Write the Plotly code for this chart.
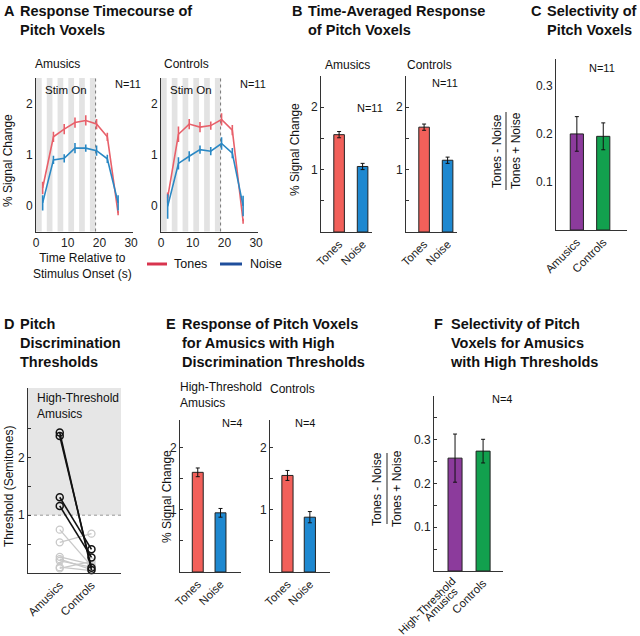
import plotly.graph_objects as go

W, H = 640, 636

# ---------------- data ----------------
# Panel A: response timecourse
time_s = [2.1, 5.5, 8.9, 12.3, 15.7, 19.1, 22.5, 25.9]
stim_onsets = [0, 3.4, 6.8, 10.2, 13.6, 17.0]
stim_width = 1.8
stim_end = 18.8
amu_tones = [0.35, 1.35, 1.5, 1.63, 1.67, 1.6, 1.35, -0.14]
amu_tones_err = [0.12, 0.1, 0.1, 0.1, 0.1, 0.1, 0.08, 0.04]
amu_noise = [0.06, 0.9, 0.93, 1.13, 1.13, 1.08, 0.92, 0.06]
amu_noise_err = [0.15, 0.08, 0.08, 0.1, 0.07, 0.1, 0.08, 0.15]
con_tones = [0.16, 1.4, 1.6, 1.54, 1.57, 1.69, 1.48, -0.3]
con_tones_err = [0.1, 0.15, 0.1, 0.1, 0.08, 0.12, 0.1, 0.05]
con_noise = [-0.01, 0.83, 0.97, 1.1, 1.07, 1.22, 1.03, 0.0]
con_noise_err = [0.24, 0.12, 0.1, 0.08, 0.08, 0.12, 0.1, 0.2]
legend_names = ["Tones", "Noise"]

# Panel B: time-averaged response
cond_labels = ["Tones", "Noise"]
b_amu = [1.56, 1.05]
b_amu_err = [0.05, 0.05]
b_con = [1.68, 1.15]
b_con_err = [0.05, 0.05]

# Panel C: selectivity
c_labels = ["Amusics", "Controls"]
c_vals = [0.2, 0.195]
c_err = [0.036, 0.028]

# Panel D: pitch discrimination thresholds
d_labels = ["Amusics", "Controls"]
d_high_amu = [2.43, 2.37, 1.31, 1.16]
d_high_con = [0.05, 0.09, 0.41, 0.27]
d_other_amu = [0.75, 0.53, 0.28, 0.24, 0.21, 0.1, 0.08]
d_other_con = [0.12, 0.68, 0.15, 0.06, 0.1, 0.04, 0.2]
d_cutoff = 1.0

# Panel E: high-threshold amusics
e_amu = [1.6, 0.95]
e_amu_err = [0.07, 0.07]
e_con = [1.55, 0.88]
e_con_err = [0.08, 0.09]

# Panel F: selectivity, high-threshold
f_labels = ["High-Threshold<br>Amusics", "Controls"]
f_vals = [0.258, 0.274]
f_err = [0.055, 0.027]

# ---------------- styles ----------------
RED_L = "#E8606A"
BLUE_L = "#2A88C4"
RED_B = "#F2605A"
BLUE_B = "#1E88D0"
PURPLE = "#8C3B9C"
GREEN = "#12A04E"
AX = "#333333"
FONT = "Liberation Sans, Arial, sans-serif"

fig = go.Figure()


def px_x(a, b):
    return [a / W, b / W]


def px_y(top, bottom):
    return [1 - bottom / H, 1 - top / H]


def axis_common():
    return dict(showline=True, linecolor=AX, linewidth=1, ticks="inside", ticklen=3,
                tickcolor=AX, showgrid=False, zeroline=False, mirror=False, automargin=False,
                tickfont=dict(size=12, color="#222"))


# axis definitions: name -> (xdom px, ydom px)
axes = {
    1: ((36, 133), (78, 231.5)),     # A amusics
    2: ((161, 258), (78, 231.5)),    # A controls
    3: ((321, 372), (76, 232)),      # B amusics
    4: ((406, 457), (76, 232)),      # B controls
    5: ((556, 627), (59, 230)),      # C
    6: ((28, 121), (388, 573)),      # D
    7: ((180, 241), (420, 572)),     # E amusics
    8: ((270, 330), (420, 572)),     # E controls
    9: ((434, 503), (396, 571)),     # F
}

layout_axes = {}
for i, (xd, yd) in axes.items():
    xn = "xaxis" if i == 1 else f"xaxis{i}"
    yn = "yaxis" if i == 1 else f"yaxis{i}"
    xa = axis_common()
    ya = axis_common()
    xa.update(domain=px_x(*xd), anchor="y" if i == 1 else f"y{i}")
    ya.update(domain=px_y(*yd), anchor="x" if i == 1 else f"x{i}")
    layout_axes[xn] = xa
    layout_axes[yn] = ya

# A axes
for i in (1, 2):
    xn = "xaxis" if i == 1 else f"xaxis{i}"
    yn = "yaxis" if i == 1 else f"yaxis{i}"
    layout_axes[xn].update(range=[0, 30.6], tickvals=[0, 10, 20, 30], ticks="")
    layout_axes[yn].update(range=[-0.5, 2.5], tickvals=[0, 1, 2], ticks="")

# B and E axes (bar)
for i, yr in ((3, 2.5), (4, 2.5), (7, 2.44), (8, 2.44)):
    layout_axes[f"xaxis{i}"].update(range=[0.23, 2.4] if i in (3, 4) else [0.22, 2.9],
                                    tickvals=[1, 2], ticktext=cond_labels, tickangle=-45, ticks="",
                                    tickfont=dict(size=11.5, color="#222"))
    layout_axes[f"yaxis{i}"].update(range=[0, yr], tickvals=[0.5, 1, 1.5, 2],
                                    ticktext=["", "1", "", "2"])
# C
layout_axes["xaxis5"].update(range=[0.21, 2.9], tickvals=[1, 2], ticktext=c_labels,
                             tickangle=-45, ticks="", tickfont=dict(size=11.5, color="#222"))
layout_axes["yaxis5"].update(range=[0, 0.356], tickvals=[0.1, 0.2, 0.3],
                             ticktext=["0.1", "0.2", "0.3"], ticks="")
# D
layout_axes["xaxis6"].update(range=[0, 2.93], tickvals=[1, 2], ticktext=d_labels,
                             tickangle=-45, ticks="", tickfont=dict(size=11.5, color="#222"))
layout_axes["yaxis6"].update(range=[0, 3.2], tickvals=[0.5, 1, 1.5, 2, 2.5],
                             ticktext=["", "1", "", "2", ""])
# F (first category label drawn as rotated annotations below, right-aligned like the source)
layout_axes["xaxis9"].update(range=[0.25, 2.71], tickvals=[1, 2], ticktext=["", f_labels[1]],
                             tickangle=-45, ticks="", tickfont=dict(size=11.5, color="#222"))
layout_axes["yaxis9"].update(range=[0, 0.4],
                             tickvals=[0.05, 0.1, 0.15, 0.2, 0.25, 0.3, 0.35],
                             ticktext=["", "0.1", "", "0.2", "", "0.3", ""])

# ---------------- traces ----------------
def line_trace(x, y, err, color, xa, ya):
    return go.Scatter(x=x, y=y, mode="lines", line=dict(color=color, width=1.6),
                      error_y=dict(type="data", array=err, color=color, thickness=1.6, width=0),
                      xaxis=xa, yaxis=ya, showlegend=False, hoverinfo="skip")


fig.add_trace(line_trace(time_s, amu_tones, amu_tones_err, RED_L, "x", "y"))
fig.add_trace(line_trace(time_s, amu_noise, amu_noise_err, BLUE_L, "x", "y"))
fig.add_trace(line_trace(time_s, con_tones, con_tones_err, RED_L, "x2", "y2"))
fig.add_trace(line_trace(time_s, con_noise, con_noise_err, BLUE_L, "x2", "y2"))


def bar_trace(vals, err, colors, xa, ya, width):
    return go.Bar(x=[1, 2], y=vals, width=width,
                  marker=dict(color=colors, line=dict(color="#222", width=1)),
                  error_y=dict(type="data", array=err, color="#111", thickness=1, width=2),
                  xaxis=xa, yaxis=ya, showlegend=False, hoverinfo="skip")


fig.add_trace(bar_trace(b_amu, b_amu_err, [RED_B, BLUE_B], "x3", "y3", 0.45))
fig.add_trace(bar_trace(b_con, b_con_err, [RED_B, BLUE_B], "x4", "y4", 0.45))
fig.add_trace(bar_trace(c_vals, c_err, [PURPLE, GREEN], "x5", "y5", 0.5))
fig.add_trace(bar_trace(e_amu, e_amu_err, [RED_B, BLUE_B], "x7", "y7", 0.48))
fig.add_trace(bar_trace(e_con, e_con_err, [RED_B, BLUE_B], "x8", "y8", 0.5))
fig.add_trace(bar_trace(f_vals, f_err, [PURPLE, GREEN], "x9", "y9", 0.5))

# Panel D paired points
for a, c in zip(d_other_amu, d_other_con):
    fig.add_trace(go.Scatter(x=[1, 2], y=[a, c], mode="lines+markers",
                             line=dict(color="#C8C8C8", width=1.3),
                             marker=dict(symbol="circle-open", size=7, color="#C8C8C8",
                                         line=dict(width=1.3)),
                             xaxis="x6", yaxis="y6", showlegend=False, hoverinfo="skip",
                             cliponaxis=False))
for a, c in zip(d_high_amu, d_high_con):
    fig.add_trace(go.Scatter(x=[1, 2], y=[a, c], mode="lines+markers",
                             line=dict(color="#111", width=1.6),
                             marker=dict(symbol="circle-open", size=7, color="#111",
                                         line=dict(width=1.5)),
                             xaxis="x6", yaxis="y6", showlegend=False, hoverinfo="skip",
                             cliponaxis=False))

# ---------------- shapes ----------------
shapes = []
for xr, yr in (("x", "y domain"), ("x2", "y2 domain")):
    for s in stim_onsets:
        shapes.append(dict(type="rect", xref=xr, yref=yr, x0=s, x1=s + stim_width,
                           y0=0, y1=1, fillcolor="#E3E3E3", line=dict(width=0), layer="below"))
    shapes.append(dict(type="line", xref=xr, yref=yr, x0=stim_end, x1=stim_end, y0=0, y1=1,
                       line=dict(color="#777", width=1, dash="dot"), layer="below"))
# D shading above cutoff
shapes.append(dict(type="rect", xref="x6 domain", yref="y6", x0=0, x1=1, y0=d_cutoff, y1=3.2,
                   fillcolor="#E6E6E6", line=dict(width=0), layer="below"))
shapes.append(dict(type="line", xref="x6 domain", yref="y6", x0=0, x1=1, y0=d_cutoff, y1=d_cutoff,
                   line=dict(color="#999", width=1, dash="dot"), layer="below"))
# fraction bars for C and F y labels
shapes.append(dict(type="line", xref="paper", yref="paper", x0=506 / W, x1=506 / W,
                   y0=1 - 190 / H, y1=1 - 112 / H, line=dict(color="#222", width=1)))
shapes.append(dict(type="line", xref="paper", yref="paper", x0=387 / W, x1=387 / W,
                   y0=1 - 524 / H, y1=1 - 453 / H, line=dict(color="#222", width=1)))
# legend keys for panel A
for (x0, x1), col in (((147, 167), "#D8344E"), ((220, 242), "#1F4E9C")):
    shapes.append(dict(type="line", xref="paper", yref="paper", x0=x0 / W, x1=x1 / W,
                       y0=1 - 264 / H, y1=1 - 264 / H, line=dict(color=col, width=3)))

# ---------------- annotations ----------------
ann = []


def txt(x, y, s, size=11, bold=False, xanchor="left", yanchor="middle", angle=0, align="left"):
    ann.append(dict(x=x / W, y=1 - y / H, xref="paper", yref="paper", text=s, showarrow=False,
                    xanchor=xanchor, yanchor=yanchor, textangle=angle, align=align,
                    font=dict(size=size, family=FONT, color="#111",
                              weight="bold" if bold else "normal")))


TS = 14.5
# panel titles
txt(2, 1, "A", TS, True, yanchor="top")
txt(18, 1, "Response Timecourse of<br>Pitch Voxels", TS, True, yanchor="top")
txt(290, 1, "B", TS, True, yanchor="top")
txt(306, 1, "Time-Averaged Response<br>of Pitch Voxels", TS, True, yanchor="top")
txt(529, 1, "C", TS, True, yanchor="top")
txt(545, 1, "Selectivity of<br>Pitch Voxels", TS, True, yanchor="top")
txt(2, 314, "D", TS, True, yanchor="top")
txt(18, 314, "Pitch<br>Discrimination<br>Thresholds", TS, True, yanchor="top")
txt(164, 314, "E", TS, True, yanchor="top")
txt(180, 314, "Response of Pitch Voxels<br>for Amusics with High<br>Discrimination Thresholds", TS, True, yanchor="top")
txt(432, 314, "F", TS, True, yanchor="top")
txt(448, 314, "Selectivity of Pitch<br>Voxels for Amusics<br>with High Thresholds", TS, True, yanchor="top")

# subplot titles
txt(33, 64, "Amusics", 12)
txt(162, 64, "Controls", 12)
txt(323, 65, "Amusics", 12)
txt(405, 65, "Controls", 12)
txt(178, 395, "High-Threshold<br>Amusics", 12, yanchor="middle")
txt(268, 389, "Controls", 12)

# N labels
txt(113, 84, "N=11", 11)
txt(238, 84, "N=11", 11)
txt(355, 108, "N=11", 11)
txt(430, 83, "N=11", 11)
txt(587, 68, "N=11", 11)
txt(220, 423, "N=4", 11)
txt(293, 423, "N=4", 11)
txt(490, 399, "N=4", 11)

# Stim On
txt(43, 90, "Stim On", 11.5)
txt(168, 90, "Stim On", 11.5)

# y labels
txt(8, 161, "% Signal Change", 12, xanchor="center", angle=-90)
txt(295, 150, "% Signal Change", 12, xanchor="center", angle=-90)
txt(167, 497, "% Signal Change", 12, xanchor="center", angle=-90)
txt(9, 487, "Threshold (Semitones)", 12, xanchor="center", angle=-90)
txt(497, 151, "Tones - Noise", 12, xanchor="center", angle=-90)
txt(516, 151, "Tones + Noise", 12, xanchor="center", angle=-90)
txt(377, 489, "Tones - Noise", 12, xanchor="center", angle=-90)
txt(397, 489, "Tones + Noise", 12, xanchor="center", angle=-90)

# x label A
txt(82, 265.5, "Time Relative to<br>Stimulus Onset (s)", 12, xanchor="center", align="center")

# legend texts
txt(172, 264, legend_names[0], 12.5)
txt(248, 264, legend_names[1], 12.5)

# D inner label
txt(35, 406, "High-Threshold<br>Amusics", 12)

# F first category label (two right-aligned rotated lines)
f_first = f_labels[0].split("<br>")
txt(460, 572, f_first[0], 11, xanchor="right", yanchor="top", angle=-45)
txt(463, 582, f_first[1], 11, xanchor="right", yanchor="top", angle=-45)

fig.update_layout(
    width=W, height=H, margin=dict(l=0, r=0, t=0, b=0, autoexpand=False),
    paper_bgcolor="white", plot_bgcolor="rgba(0,0,0,0)",
    font=dict(family=FONT, size=11, color="#111"),
    barmode="group", shapes=shapes, annotations=ann, showlegend=False,
    **layout_axes,
)

fig.write_html("out.html", config={"displayModeBar": False},
               post_script="document.body.style.margin='0';document.body.style.overflow='hidden';")
